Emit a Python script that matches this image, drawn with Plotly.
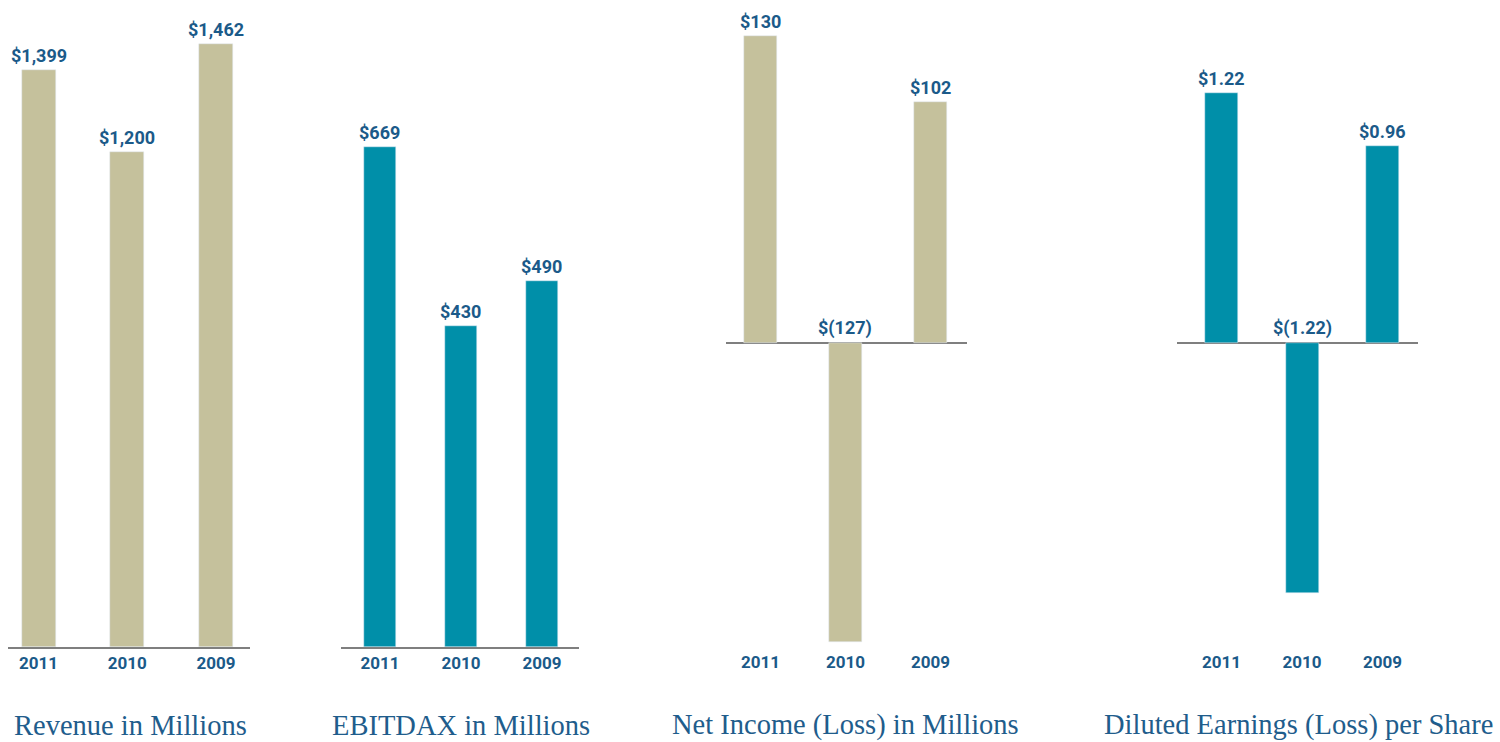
import plotly.graph_objects as go

years = ["2011", "2010", "2009"]
revenue = [1399, 1200, 1462]
ebitdax = [669, 430, 490]
net_income = [130, -127, 102]
eps = [1.22, -1.22, 0.96]

titles = ["Revenue in Millions", "EBITDAX in Millions",
          "Net Income (Loss) in Millions", "Diluted Earnings (Loss) per Share"]

TAN = "#C5C19C"
TEAL = "#008FA9"
LABEL = "#1B5A89"
TITLE = "#1F5D8C"
AXIS = "#7F7F7F"

W, H = 1500, 742


def fmt_int(v):
    return "${:,}".format(v) if v >= 0 else "$({:,})".format(-v)


def fmt_dec(v):
    return "${:.2f}".format(v) if v >= 0 else "$({:.2f})".format(-v)


panels = [
    dict(vals=revenue, fmt=fmt_int, color=TAN, xpx=(8, 250), xr=[-0.344, 2.383], yr=[0, 1568.7], width=0.383, base=True, tx=130),
    dict(vals=ebitdax, fmt=fmt_int, color=TEAL, xpx=(341, 579), xr=[-0.481, 2.457], yr=[0, 865.7], width=0.39, base=True, tx=461),
    dict(vals=net_income, fmt=fmt_int, color=TAN, xpx=(726, 967), xr=[-0.404, 2.428], yr=[-129.12, 145.27], width=0.39, base=False, tx=846),
    dict(vals=eps, fmt=fmt_dec, color=TEAL, xpx=(1177, 1418), xr=[-0.553, 2.441], yr=[-1.485, 1.6724], width=0.41, base=False, tx=1298),
]

fig = go.Figure()
annotations = []
ybottom = 1 - 647 / H

for i, p in enumerate(panels):
    n = "" if i == 0 else str(i + 1)
    xa, ya = "x" + n, "y" + n
    fig.add_trace(go.Bar(x=years, y=p["vals"], marker_color=p["color"], width=p["width"],
                         xaxis=xa, yaxis=ya, showlegend=False, hoverinfo="skip"))
    fig.update_layout(**{
        "xaxis" + n: dict(domain=[p["xpx"][0] / W, p["xpx"][1] / W], anchor=ya, type="category",
                          range=p["xr"], showgrid=False, zeroline=False,
                          showline=p["base"], linecolor=AXIS, linewidth=2,
                          ticks="", ticklabelstandoff=(0 if p["base"] else 3),
                          tickfont=dict(family="Roboto", size=17, color=LABEL, weight="bold"),
                          fixedrange=True),
        "yaxis" + n: dict(domain=[ybottom, 1], anchor=xa, range=p["yr"], showgrid=False,
                          showticklabels=False, ticks="", showline=False,
                          zeroline=not p["base"], zerolinecolor=AXIS, zerolinewidth=2,
                          fixedrange=True),
    })
    for k, v in enumerate(p["vals"]):
        annotations.append(dict(x=k, y=max(v, 0), xref=xa, yref=ya, text=p["fmt"](v),
                                showarrow=False, yanchor="bottom", yshift=2,
                                font=dict(family="Roboto", size=18, color=LABEL, weight="bold")))
    annotations.append(dict(x=p["tx"] / W, y=1 - 725 / H, xref="paper", yref="paper",
                            text=titles[i], showarrow=False, xanchor="center", yanchor="middle",
                            font=dict(family="Liberation Serif", size=28.5, color=TITLE)))

fig.update_layout(width=W, height=H, margin=dict(l=0, r=0, t=0, b=0),
                  paper_bgcolor="white", plot_bgcolor="white", annotations=annotations,
                  bargap=0)

fig.write_html("out.html", config={"displayModeBar": False},
               post_script="document.body.style.margin='0';document.body.style.overflow='hidden';")
